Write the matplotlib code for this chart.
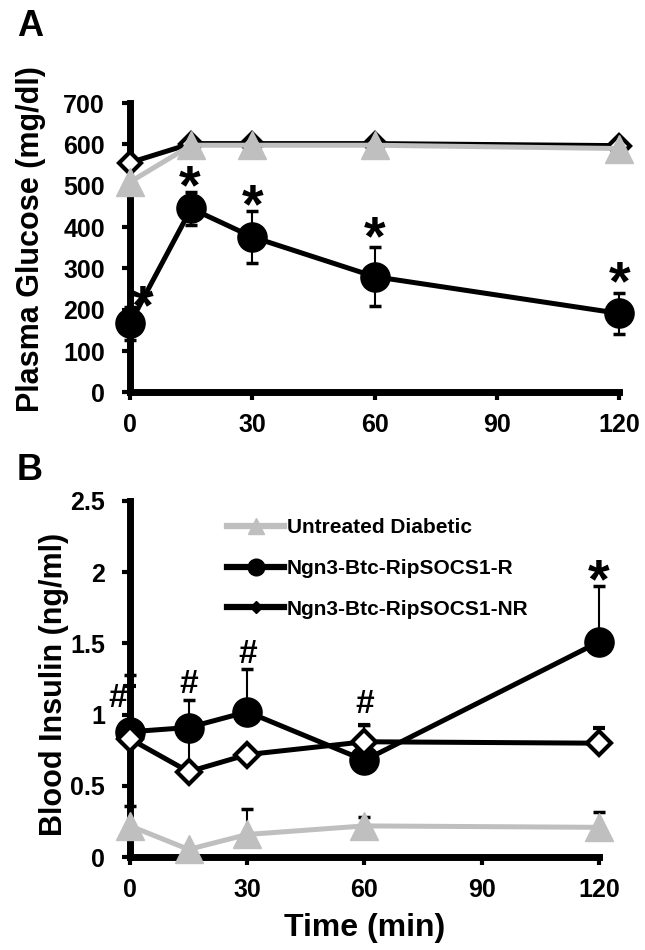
import numpy as np
import matplotlib
matplotlib.use("Agg")
import matplotlib.pyplot as plt
import matplotlib.transforms as mtransforms
from matplotlib.lines import Line2D
from matplotlib.ticker import FuncFormatter

plt.rcParams['font.family'] = ['Liberation Sans', 'DejaVu Sans']
plt.rcParams['font.weight'] = 'bold'

# time points (min)
time = [0, 15, 30, 60, 120]
labels = ["Untreated Diabetic", "Ngn3-Btc-RipSOCS1-R", "Ngn3-Btc-RipSOCS1-NR"]

# panel A - plasma glucose (mg/dl)
glu_untreated = [509, 598, 598, 598, 590]
glu_R = [167, 445, 376, 280, 191]
glu_R_err = [40, 41, 62, 72, 50]
glu_NR = [556, 602, 602, 602, 597]

# panel B - blood insulin (ng/ml)
ins_untreated = [0.22, 0.055, 0.16, 0.22, 0.21]
ins_untreated_err = [0.14, 0.0, 0.18, 0.06, 0.11]
ins_R = [0.88, 0.91, 1.02, 0.68, 1.51]
ins_R_err = [0.40, 0.19, 0.30, 0.25, 0.39]
ins_NR = [0.83, 0.60, 0.72, 0.81, 0.80]
ins_NR_err = [0.37, 0.30, 0.0, 0.12, 0.11]

# significance marks (x, y, symbol)
marks_A = [(3.2, 226, "*"), (14.7, 516, "*"), (30, 469, "*"), (60, 393, "*"), (120, 284, "*")]
marks_B = [(-3.2, 1.11, "#"), (15, 1.21, "#"), (30, 1.42, "#"), (60, 1.07, "#"), (120, 1.99, "*")]

GRAY = "#BFBFBF"
LW = 3.6

fig = plt.figure(figsize=(6.45, 9.5), dpi=100)
axA = fig.add_axes([0.2016, 0.587, 0.7586, 0.3045])
axB = fig.add_axes([0.2016, 0.0976, 0.727, 0.3753])


def style_axes(ax):
    for s in ["top", "right"]:
        ax.spines[s].set_visible(False)
    for s in ["left", "bottom"]:
        ax.spines[s].set_linewidth(5)
        ax.spines[s].set_capstyle("projecting")
    ax.tick_params(axis="both", which="major", direction="out", length=6, width=3,
                   labelsize=18)
    ax.tick_params(axis="y", pad=12)
    ax.tick_params(axis="x", pad=9)
    ax.set_xlim(0, 120)
    ax.set_xticks([0, 30, 60, 90, 120])


def put_mark(ax, x, y, s):
    if s == "*":
        # shift down so the asterisk glyph itself sits on (x, y)
        tr = mtransforms.offset_copy(ax.transData, fig=fig, y=-0.18 * 40, units="points")
        ax.text(x, y, s, fontsize=40, fontweight="bold", ha="center", va="center",
                transform=tr, clip_on=False)
    else:
        ax.text(x, y, s, fontsize=24, fontweight="bold", ha="center", va="center",
                clip_on=False)


# ---------------- Panel A
style_axes(axA)
axA.errorbar(time, glu_R, yerr=glu_R_err, color="black", lw=LW, marker="o", ms=21,
             elinewidth=1.5, capsize=4, capthick=2.5, clip_on=False, zorder=3)
axA.plot(time, glu_NR, color="black", lw=LW, marker="D", ms=11, mfc="white",
         mec="black", mew=3, clip_on=False, zorder=4)
axA.plot(time, glu_untreated, color=GRAY, lw=LW, marker="^", ms=20, clip_on=False, zorder=5)
axA.set_ylim(0, 700)
axA.set_yticks(np.arange(0, 701, 100))
axA.set_ylabel("Plasma Glucose (mg/dl)", fontsize=22, fontweight="bold")
axA.yaxis.set_label_coords(-0.172, 0.53)
for x, y, s in marks_A:
    put_mark(axA, x, y, s)

# ---------------- Panel B
style_axes(axB)
axB.errorbar(time, ins_untreated, yerr=[np.zeros(5), ins_untreated_err], color=GRAY,
             lw=LW, marker="^", ms=20, elinewidth=1.5, ecolor="black", capsize=4,
             capthick=2.5, clip_on=False, zorder=3)
axB.errorbar(time, ins_R, yerr=[np.zeros(5), ins_R_err], color="black", lw=LW, marker="o",
             ms=21, elinewidth=1.5, capsize=4, capthick=2.5, clip_on=False, zorder=3)
axB.errorbar(time, ins_NR, yerr=[np.zeros(5), ins_NR_err], color="black", lw=LW, marker="D",
             ms=12, mfc="white", mec="black", mew=3, elinewidth=1.5, capsize=4,
             capthick=2.5, clip_on=False, zorder=4)
axB.set_ylim(0, 2.5)
axB.set_yticks(np.arange(0, 2.51, 0.5))
axB.yaxis.set_major_formatter(FuncFormatter(lambda v, p: f"{v:g}"))
axB.set_ylabel("Blood Insulin (ng/ml)", fontsize=22, fontweight="bold")
axB.yaxis.set_label_coords(-0.13, 0.485)
axB.set_xlabel("Time (min)", fontsize=23, fontweight="bold", labelpad=8)
for x, y, s in marks_B:
    put_mark(axB, x, y, s)

handles = [
    Line2D([], [], color=GRAY, lw=4.5, marker="^", ms=12),
    Line2D([], [], color="black", lw=4.5, marker="o", ms=12),
    Line2D([], [], color="black", lw=4.5, marker="D", ms=6),
]
leg = axB.legend(handles, labels, loc="upper left", bbox_to_anchor=(0.19, 0.975),
                 frameon=False, fontsize=15, handlelength=2.7, handletextpad=0.15,
                 labelspacing=1.05, borderaxespad=0)
for t in leg.get_texts():
    t.set_fontweight("bold")

fig.text(0.046, 0.972, "A", fontsize=26, fontweight="bold", ha="center", va="center")
fig.text(0.046, 0.505, "B", fontsize=26, fontweight="bold", ha="center", va="center")

fig.savefig("out.png", dpi=100)
